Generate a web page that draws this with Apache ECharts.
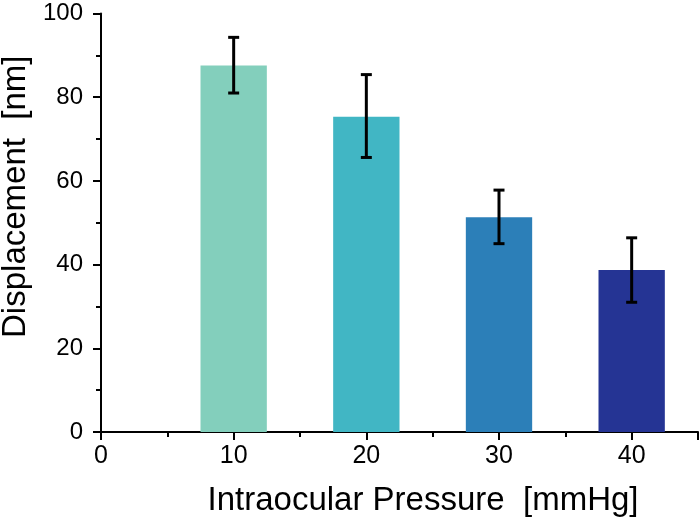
<!DOCTYPE html>
<html>
<head>
<meta charset="utf-8">
<script src="https://cdn.jsdelivr.net/npm/echarts@6/dist/echarts.min.js"></script>
<style>
html,body{margin:0;padding:0;background:#fff;}
#chart{width:700px;height:517px;}
</style>
</head>
<body>
<div id="chart"></div>
<script>
// Data
var pressures = [10, 20, 30, 40];
var displacement = [87.6, 75.3, 51.3, 38.7];
var errLow = [81.0, 65.6, 45.0, 31.0];
var errHigh = [94.3, 85.4, 57.8, 46.4];
var xTicks = [0, 10, 20, 30, 40];
var yTicks = [0, 20, 40, 60, 80, 100];

// Styles
var barColors = ['#83CFBC', '#41B6C4', '#2C7FB8', '#253494'];
var barHalfWidth = 2.5;

var chart = echarts.init(document.getElementById('chart'));
var data = pressures.map(function (p, i) {
  return [p, displacement[i], errLow[i], errHigh[i]];
});
var font = 'Liberation Sans, Arial, Helvetica, sans-serif';

chart.setOption({
  animation: false,
  grid: { left: 101, right: 2, top: 13.5, bottom: 85, containLabel: false, outerBoundsMode: 'none' },
  xAxis: {
    type: 'value', min: 0, max: 45, interval: 10,
    name: 'Intraocular Pressure  [mmHg]',
    nameLocation: 'middle', nameGap: 52,
    nameTextStyle: { fontSize: 33, color: '#000', fontFamily: font, padding: [0, 0, 0, 47] },
    axisLine: { show: true, onZero: false, lineStyle: { color: '#000', width: 2 } },
    axisTick: { show: true, inside: false, length: 8, lineStyle: { color: '#000', width: 2 } },
    minorTick: { show: true, splitNumber: 2, length: 5, lineStyle: { color: '#000', width: 2 } },
    axisLabel: { fontSize: 25, color: '#000', fontFamily: font, margin: 12,
      formatter: function (v) { return xTicks.indexOf(v) >= 0 ? String(v) : ''; } },
    splitLine: { show: false }
  },
  yAxis: {
    type: 'value', min: 0, max: 100, interval: 20,
    name: 'Displacement  [nm]',
    nameLocation: 'middle', nameGap: 68,
    nameTextStyle: { fontSize: 33, color: '#000', fontFamily: font, padding: [0, 0, 0, 52] },
    axisLine: { show: true, onZero: false, lineStyle: { color: '#000', width: 2 } },
    axisTick: { show: true, inside: false, length: 8, lineStyle: { color: '#000', width: 2 } },
    minorTick: { show: true, splitNumber: 2, length: 5, lineStyle: { color: '#000', width: 2 } },
    axisLabel: { fontSize: 24, color: '#000', fontFamily: font, margin: 18,
      formatter: function (v) { return yTicks.indexOf(v) >= 0 ? String(v) : ''; } },
    splitLine: { show: false }
  },
  series: [
    {
      type: 'custom',
      data: data,
      encode: { x: 0, y: 1 },
      z: 2,
      renderItem: function (params, api) {
        var x = api.value(0), y = api.value(1);
        var p1 = api.coord([x - barHalfWidth, y]);
        var p2 = api.coord([x + barHalfWidth, 0]);
        return {
          type: 'rect',
          shape: { x: p1[0], y: p1[1], width: p2[0] - p1[0], height: p2[1] - p1[1] },
          style: { fill: barColors[params.dataIndex] }
        };
      }
    },
    {
      type: 'custom',
      data: data,
      encode: { x: 0, y: [2, 3] },
      z: 3,
      renderItem: function (params, api) {
        var x = api.value(0);
        var lo = api.coord([x, api.value(2)]);
        var hi = api.coord([x, api.value(3)]);
        var cap = 5.5;
        var st = { stroke: '#000', lineWidth: 3 };
        return {
          type: 'group',
          children: [
            { type: 'line', shape: { x1: hi[0], y1: hi[1], x2: lo[0], y2: lo[1] }, style: st },
            { type: 'line', shape: { x1: hi[0] - cap, y1: hi[1], x2: hi[0] + cap, y2: hi[1] }, style: st },
            { type: 'line', shape: { x1: lo[0] - cap, y1: lo[1], x2: lo[0] + cap, y2: lo[1] }, style: st }
          ]
        };
      }
    }
  ]
});
</script>
</body>
</html>
